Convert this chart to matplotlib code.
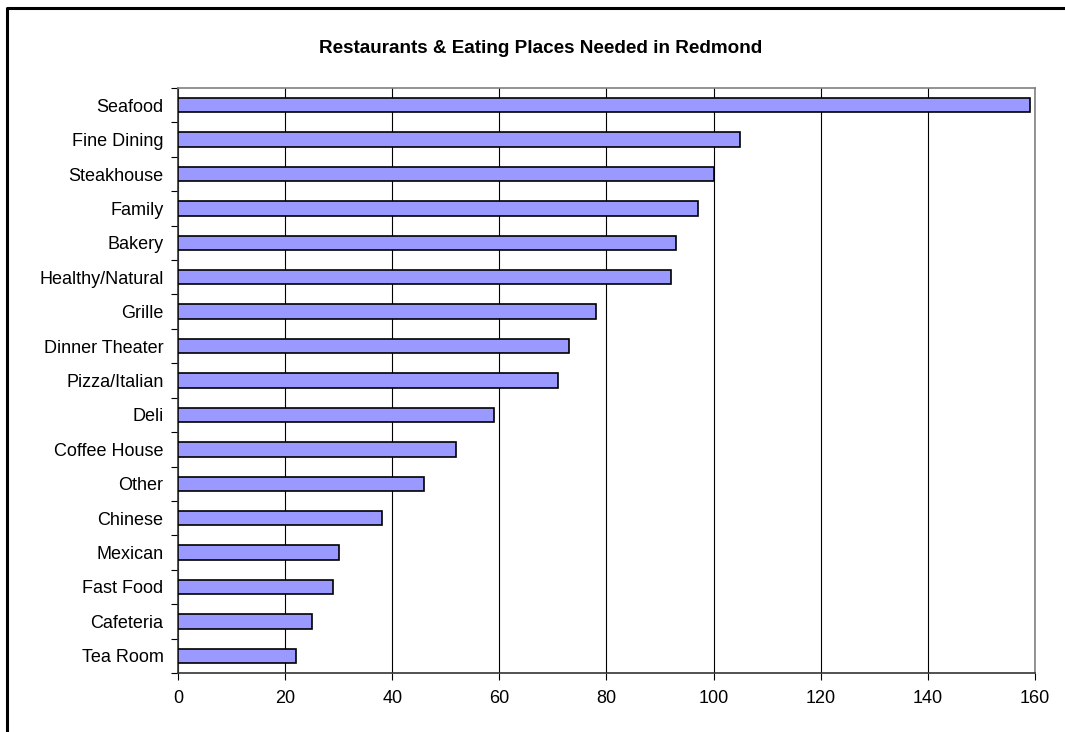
import numpy as np
import matplotlib.pyplot as plt
from matplotlib.lines import Line2D

plt.rcParams['font.family'] = ['Liberation Sans', 'DejaVu Sans']

# categories listed bottom to top, as drawn
categories = ["Tea Room", "Cafeteria", "Fast Food", "Mexican", "Chinese", "Other",
              "Coffee House", "Deli", "Pizza/Italian", "Dinner Theater", "Grille",
              "Healthy/Natural", "Bakery", "Family", "Steakhouse", "Fine Dining", "Seafood"]
counts = [22, 25, 29, 30, 38, 46, 52, 59, 71, 73, 78, 92, 93, 97, 100, 105, 159]
x_ticks = [0, 20, 40, 60, 80, 100, 120, 140, 160]

fig = plt.figure(figsize=(10.65, 7.32), dpi=100)
ax = fig.add_axes([0.1671, 0.0806, 0.8047, 0.7992])

y = np.arange(len(categories))
ax.barh(y, counts, height=0.42, color="#9999FF", edgecolor="black", linewidth=1.2, zorder=3)

ax.set_xlim(0, 160)
ax.set_ylim(-0.5, len(categories) - 0.5)
ax.set_xticks(x_ticks)
ax.set_xticklabels([str(t) for t in x_ticks], fontsize=13)
ax.xaxis.grid(True, color="black", linewidth=0.8, zorder=0)
ax.tick_params(axis="x", direction="out", length=5, width=0.8, pad=7)

# labels at bar centres, tick marks at category boundaries
ax.set_yticks(y)
ax.set_yticklabels(categories, fontsize=13)
ax.tick_params(axis="y", which="major", length=0, pad=10.5)
ax.set_yticks(np.arange(-0.5, len(categories)), minor=True)
ax.tick_params(axis="y", which="minor", direction="out", length=5, width=0.8)

for side in ["top", "right"]:
    ax.spines[side].set_color("#808080")
    ax.spines[side].set_linewidth(1.2)
for side in ["left", "bottom"]:
    ax.spines[side].set_color("#333333")
    ax.spines[side].set_linewidth(1.2)

fig.text(0.508, 0.934, "Restaurants & Eating Places Needed in Redmond",
         ha="center", va="center", fontsize=13.6, fontweight="bold")

# chart border
fig.add_artist(Line2D([7 / 1065, 7 / 1065, 1.0], [0.0, 1 - 7.5 / 732, 1 - 7.5 / 732],
                      transform=fig.transFigure, color="black", linewidth=2.2))

fig.savefig("out.png", dpi=100)
